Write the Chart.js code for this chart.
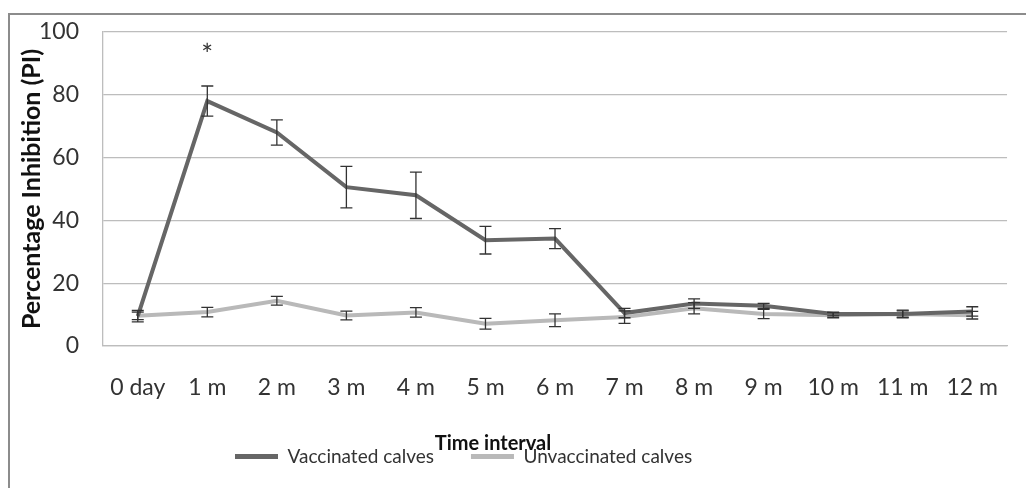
<!DOCTYPE html>
<html>
<head>
<meta charset="utf-8">
<script src="https://cdn.jsdelivr.net/npm/chart.js@4"></script>
<style>
  html, body { margin: 0; padding: 0; background: #fff; overflow: hidden; }
  #frame { position: absolute; left: 8px; top: 13px; width: 1200px; height: 600px; border: 2px solid #8c8c8c; }
  #wrap { position: absolute; left: 0; top: 0; width: 1026px; height: 488px; }
</style>
</head>
<body>
<div id="frame"></div>
<div id="wrap"><canvas id="chart"></canvas></div>
<script>
'use strict'

// time points (categories)
const timeLabels = ['0 day', '1 m', '2 m', '3 m', '4 m', '5 m', '6 m', '7 m', '8 m', '9 m', '10 m', '11 m', '12 m']

// mean PI and error
const vaccinated = [9.5, 78, 68, 50.6, 48, 33.7, 34.2, 10.5, 13.5, 12.8, 10.2, 10.2, 11]
const vaccinatedErr = [1.8, 4.8, 4, 6.6, 7.4, 4.4, 3.2, 1.5, 1.5, 0.8, 0.6, 1, 1.5]
const unvaccinated = [9.6, 10.8, 14.4, 9.7, 10.7, 7.1, 8.2, 9.2, 12, 10.2, 9.8, 10.2, 9.8]
const unvaccinatedErr = [1.2, 1.5, 1.4, 1.4, 1.5, 1.7, 2, 2, 1.8, 1.5, 0.8, 1.2, 1.2]

// significance marks above the vaccinated series
const marks = ['', '*', '', '', '', '', '', '', '', '', '', '', '']

const yTicks = [0, 20, 40, 60, 80, 100]

const FONT = 'Lato'
const gridGrey = '#bdbdbd'

// draws error bars and the asterisk using the chart scales
const errorBars = {
  id: 'errorBars',
  afterDatasetsDraw (chart) {
    const { ctx, scales: { x, y } } = chart
    ctx.save()
    ctx.strokeStyle = '#333'
    ctx.lineWidth = 1.3
    const series = [[vaccinated, vaccinatedErr], [unvaccinated, unvaccinatedErr]]
    series.forEach(([vals, errs]) => {
      vals.forEach((v, i) => {
        const px = x.getPixelForValue(i)
        const top = y.getPixelForValue(v + errs[i])
        const bot = y.getPixelForValue(v - errs[i])
        ctx.beginPath()
        ctx.moveTo(px, top); ctx.lineTo(px, bot)
        ctx.moveTo(px - 6, top); ctx.lineTo(px + 6, top)
        ctx.moveTo(px - 6, bot); ctx.lineTo(px + 6, bot)
        ctx.stroke()
      })
    })
    ctx.fillStyle = '#333'
    ctx.font = '28px ' + FONT
    ctx.textAlign = 'center'
    ctx.textBaseline = 'alphabetic'
    marks.forEach((m, i) => {
      if (!m) return
      const top = y.getPixelForValue(vaccinated[i] + vaccinatedErr[i])
      ctx.fillText(m, x.getPixelForValue(i), top - 21)
    })
    ctx.restore()
  }
}

// nudges the bottom title and legend sideways, like the original sheet
const placeBottomBlocks = {
  id: 'placeBottomBlocks',
  afterLayout (chart) {
    if (chart.titleBlock) { chart.titleBlock.left = 0; chart.titleBlock.right = 986 }
    if (chart.legend) { chart.legend.left = 198 }
  }
}

const ctx = document.getElementById('chart')

const piChart = new Chart(ctx, {
  type: 'line',
  data: {
    labels: timeLabels,
    datasets: [{
      label: 'Vaccinated calves',
      data: vaccinated,
      borderColor: '#666666',
      backgroundColor: '#666666',
      borderWidth: 4,
      pointRadius: 0,
      tension: 0
    },
    {
      label: 'Unvaccinated calves',
      data: unvaccinated,
      borderColor: '#b9b9b9',
      backgroundColor: '#b9b9b9',
      borderWidth: 4,
      pointRadius: 0,
      tension: 0
    }]
  },
  options: {
    responsive: true,
    maintainAspectRatio: false,
    animation: false,
    layout: { padding: { top: 32, left: 0, right: 0, bottom: 12 } },
    scales: {
      x: {
        offset: true,
        afterFit: scale => { scale.height = 56 }, // ticks padding is counted twice otherwise
        grid: { display: false, drawTicks: false },
        border: { display: true, color: gridGrey, width: 1.3 },
        ticks: { font: { family: FONT, size: 23 }, color: '#333', padding: 28, maxRotation: 0 }
      },
      y: {
        min: 0,
        max: 100,
        afterBuildTicks: scale => { scale.ticks = yTicks.map(v => ({ value: v })) },
        afterFit: scale => {
          scale.width = 103
          scale.paddingTop = 0 // keep the plot top where layout.padding puts it
          scale.paddingBottom = 0
        },
        grid: { color: gridGrey, lineWidth: 1.3, drawTicks: false },
        border: { display: true, color: gridGrey, width: 1.3 },
        ticks: { font: { family: FONT, size: 23 }, color: '#333', padding: 24 },
        title: {
          display: true,
          text: 'Percentage Inhibition (PI)',
          font: { family: FONT, size: 25, weight: 'bold' },
          color: '#111',
          padding: { top: 17, bottom: 0 }
        }
      }
    },
    plugins: {
      title: {
        display: true,
        position: 'bottom',
        text: 'Time interval',
        font: { family: FONT, size: 20, weight: 'bold' },
        color: '#111',
        padding: { top: 30, bottom: -46 }
      },
      legend: {
        position: 'bottom',
        align: 'start',
        weight: 3000,
        labels: {
          font: { family: FONT, size: 19 },
          color: '#333',
          boxWidth: 43,
          boxHeight: 5,
          padding: 37,
          generateLabels: chart => Chart.defaults.plugins.legend.labels.generateLabels(chart)
            .map(item => Object.assign(item, { lineWidth: 0 }))
        }
      },
      tooltip: { enabled: false }
    }
  },
  plugins: [errorBars, placeBottomBlocks]
})
</script>
</body>
</html>
